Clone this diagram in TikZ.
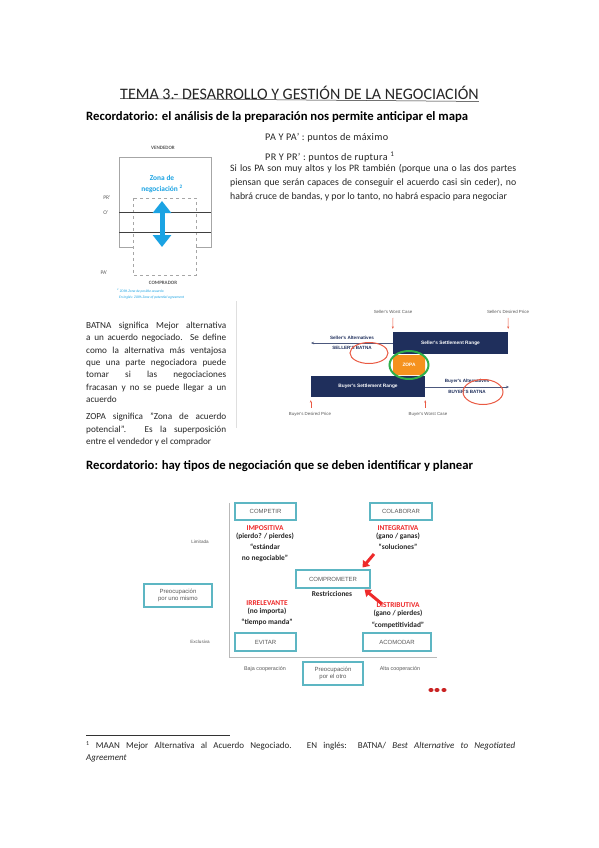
\documentclass[tikz,border=0pt]{standalone}
\usepackage{fontspec}
\setmainfont{Carlito}
\newfontfamily\arialfam{Liberation Sans}
\usetikzlibrary{arrows.meta,positioning,shapes.geometric}
\definecolor{zonaazul}{HTML}{1BA3E3}
\definecolor{marino}{HTML}{1F2F5C}
\definecolor{naranja}{HTML}{F5921E}
\definecolor{verde}{HTML}{2EAF4B}
\definecolor{rojo}{HTML}{EE2A2A}
\definecolor{rojocirculo}{HTML}{EA5A43}
\definecolor{turquesa}{HTML}{5DB6C3}
\definecolor{gristexto}{HTML}{5A5A5A}
\tikzset{
  cuerpo/.style={inner sep=0pt, font=\fontsize{9.2}{13.8}\selectfont, text=black!85},
  titulillo/.style={inner sep=0pt, anchor=west, font=\fontsize{12.7}{14}\selectfont\bfseries},
  mini/.style={inner sep=0pt, font=\arialfam\fontsize{4.4}{5}\selectfont, text=gristexto},
  rango/.style={fill=marino, text=white, inner sep=0pt, font=\arialfam\bfseries\fontsize{4.8}{5}\selectfont},
  flechita/.style={-{Stealth[length=2.5pt,width=2pt]}, rojocirculo, line width=0.5pt},
  alternativa/.style={-{Stealth[length=3pt,width=2.5pt]}, marino!80, line width=0.5pt},
  caja/.style={draw=turquesa, line width=1.2pt, inner sep=0pt, text=gristexto, font=\arialfam\fontsize{6}{7.5}\selectfont, align=center},
  tipo/.style={inner sep=0pt, text=rojo, font=\bfseries\fontsize{7.4}{9}\selectfont},
  lema/.style={inner sep=0pt, text=black!85, font=\bfseries\fontsize{7.4}{11.3}\selectfont, align=center},
  flecharoja/.style={rojo, line width=3pt, -{Triangle[length=6pt,width=9pt]}}
}
\begin{document}
\begin{tikzpicture}[x=1pt, y=-1pt]
  \useasboundingbox[fill=white] (0,0) rectangle (599,848);
  % titulo y primer epigrafe
  \node[inner sep=0pt, font=\fontsize{16}{16}\selectfont, text=black!85] (tema) at (299.5,93) {TEMA 3.- DESARROLLO Y GESTIÓN DE LA NEGOCIACIÓN};
  \draw[black!85, line width=0.5pt] (tema.south west) ++(0,-1.5) -- ([yshift=-1.5pt]tema.south east);
  \node[titulillo] (rec1) at (86,117) {Recordatorio: el análisis de la preparación nos permite anticipar el mapa};

  % el esquema vendedor / comprador
  \node[inner sep=0pt, text=gristexto, font=\bfseries\fontsize{5}{5}\selectfont] (vendedor) at (163,148) {VENDEDOR};
  \draw[gray!70, line width=0.6pt] (133,247) -- (119,247) -- (119,157) -- (211,157) -- (211,247) -- (196,247);
  \draw[gray!70, dashed, line width=0.6pt] (133,198) rectangle (196,275);
  \draw[gray!50!black, line width=1pt] (119,212.5) -- (211,212.5);
  \draw[gray!50!black, line width=1pt] (119,232) -- (211,232);
  \coordinate (zonaarriba) at (162,201);
  \coordinate (zonaabajo) at (162,247);
  \draw[zonaazul, line width=5pt, {Triangle[length=12pt,width=18pt]}-{Triangle[length=12pt,width=18pt]}] (zonaarriba) -- (zonaabajo);
  \node[inner sep=0pt, text=zonaazul, font=\bfseries\fontsize{7.4}{11.5}\selectfont, align=center] (zona) at (162,184) {Zona de\\negociación \textsuperscript{2}};
  \node[inner sep=0pt, text=gristexto, font=\fontsize{5.5}{5}\selectfont\rmfamily] (pr) at (107,198) {PR’};
  \node[inner sep=0pt, text=gristexto, font=\fontsize{5.5}{5}\selectfont\rmfamily] (o) at (106,213) {O’};
  \node[inner sep=0pt, text=gristexto, font=\fontsize{5.5}{5}\selectfont\rmfamily] (pa) at (104,273) {PA’};
  \node[inner sep=0pt, text=gristexto, font=\bfseries\fontsize{5}{5}\selectfont] (comprador) at (163,283) {COMPRADOR};
  \node[inner sep=0pt, anchor=west, text=zonaazul, font=\itshape\fontsize{3.6}{6}\selectfont, align=left] (notazopa) at (117,294) {\textsuperscript{2} ZOPA Zona de posible acuerdo\\\hspace*{2pt}En inglés: ZOPA Zone of potential agreement};

  % textos de la derecha
  \node[cuerpo, anchor=west, font=\fontsize{10.2}{12}\selectfont\addfontfeature{LetterSpace=3}] (pamax) at (265,138) {PA Y PA’ : puntos de máximo};
  \node[cuerpo, anchor=west, font=\fontsize{10.2}{12}\selectfont\addfontfeature{LetterSpace=3}] (prrup) at (265,157) {PR Y PR’ : puntos de ruptura \textsuperscript{1}};
  \node[cuerpo, anchor=north west, text width=286pt, align=justify, font=\fontsize{9.8}{13.8}\selectfont] (silos) at (230,164.5) {Si los PA son muy altos y los PR también (porque una o las dos partes\linebreak piensan que serán capaces de conseguir el acuerdo casi sin ceder), no\linebreak habrá cruce de bandas, y por lo tanto, no habrá espacio para negociar};

  % textos de la izquierda
  \node[cuerpo, anchor=north west, text width=140pt, align=justify, font=\fontsize{9.2}{12.3}\selectfont] (batna) at (86,322) {BATNA significa Mejor alternativa\linebreak a un acuerdo negociado. Se define\linebreak como la alternativa más ventajosa\linebreak que una parte negociadora puede\linebreak tomar si las negociaciones\linebreak fracasan y no se puede llegar a un\linebreak acuerdo};
  \node[cuerpo, anchor=north west, text width=140pt, align=justify, font=\fontsize{9.2}{12.5}\selectfont] (zopadef) at (86,413) {ZOPA significa "Zona de acuerdo\linebreak potencial". Es la superposición\linebreak entre el vendedor y el comprador};
  \draw[gray!25, line width=0.8pt] (236,301) -- (236,428);

  % el esquema de la BATNA
  \node[mini] (swc) at (393,312) {Seller's Worst Case};
  \node[mini] (sdp) at (508,312) {Seller's Desired Price};
  \node[rango, minimum width=115pt, minimum height=22pt] (ssr) at (450.5,343) {Seller's Settlement Range};
  \node[rango, minimum width=114pt, minimum height=21pt] (bsr) at (368,386.5) {Buyer's Settlement Range};
  \node[fill=naranja, rounded corners=3pt, minimum width=32pt, minimum height=20pt, inner sep=0pt, text=white, font=\arialfam\bfseries\fontsize{4.8}{5}\selectfont] (zopa) at (409,365) {ZOPA};
  \draw[verde, line width=2pt] (zopa) ellipse (19.5pt and 14pt);
  \draw[flechita] ([yshift=-4pt]swc.south) -- ([yshift=3pt]ssr.north west);
  \draw[flechita] ([yshift=-4pt]sdp.south) -- ([yshift=3pt]ssr.north east);
  \coordinate (sbatna) at (311,343);
  \coordinate (bbatna) at (509,387);
  \draw[alternativa] (ssr.west) -- (sbatna);
  \draw[alternativa] (bsr.east |- bbatna) -- (bbatna);
  \node[inner sep=0pt, text=marino, font=\arialfam\bfseries\fontsize{4.6}{5}\selectfont] (salt) at (352,338) {Seller's Alternatives};
  \node[inner sep=0pt, text=marino, font=\arialfam\bfseries\fontsize{4.6}{5}\selectfont] (sbat) at (352,348) {SELLER'S BATNA};
  \node[inner sep=0pt, text=marino, font=\arialfam\bfseries\fontsize{4.6}{5}\selectfont] (balt) at (467,381) {Buyer's Alternatives};
  \node[inner sep=0pt, text=marino, font=\arialfam\bfseries\fontsize{4.6}{5}\selectfont] (bbat) at (467,392) {BUYER'S BATNA};
  \draw[rojocirculo, line width=1pt] (369,353) ellipse (19pt and 10.5pt);
  \draw[rojocirculo, line width=1pt] (483,392) ellipse (20pt and 12.5pt);
  \node[mini] (bdp) at (310,414) {Buyer's Desired Price};
  \node[mini] (bwc) at (428,414) {Buyer's Worst Case};
  \draw[flechita] ([yshift=4pt]bdp.north -| bsr.south west) -- ([yshift=-3pt]bsr.south west);
  \draw[flechita] ([yshift=4pt]bwc.north -| bsr.south east) -- ([yshift=-3pt]bsr.south east);

  % segundo epigrafe
  \node[titulillo] (rec2) at (86,466) {Recordatorio: hay tipos de negociación que se deben identificar y planear};

  % la matriz de estilos de negociacion
  \coordinate (ejearriba) at (229,503);
  \coordinate (origen) at (229,657);
  \coordinate (ejederecha) at (437,657);
  \draw[gray!55, line width=0.8pt] (ejearriba) -- (origen) -- (ejederecha);
  \node[caja, minimum width=61pt, minimum height=17pt] (competir) at (265.5,511.5) {COMPETIR};
  \node[caja, minimum width=62pt, minimum height=17pt] (colaborar) at (401,511.5) {COLABORAR};
  \node[caja, minimum width=74pt, minimum height=18pt] (comprometer) at (333,579) {COMPROMETER};
  \node[caja, minimum width=61pt, minimum height=18pt] (evitar) at (265.5,642) {EVITAR};
  \node[caja, minimum width=68pt, minimum height=18pt] (acomodar) at (397,642) {ACOMODAR};
  \node[caja, minimum width=68pt, minimum height=23pt] (uno) at (178,595.5) {Preocupación\\por uno mismo};
  \node[caja, minimum width=60pt, minimum height=23pt] (otro) at (333,673.5) {Preocupación\\por el otro};
  \node[mini, font=\arialfam\fontsize{4.6}{5}\selectfont] (limitada) at (200,542) {Limitada};
  \node[mini, font=\arialfam\fontsize{4.6}{5}\selectfont] (exclusiva) at (200,642) {Exclusiva};
  \node[mini, font=\arialfam\fontsize{5.4}{5}\selectfont] (baja) at (265,669) {Baja cooperación};
  \node[mini, font=\arialfam\fontsize{5.4}{5}\selectfont] (alta) at (400,669) {Alta cooperación};
  \node[tipo] (impositiva) at (265,528) {IMPOSITIVA};
  \node[lema, below=2pt of impositiva] (impolema) {(pierdo? / pierdes)\\“estándar\\no negociable”};
  \node[tipo] (integrativa) at (398,528) {INTEGRATIVA};
  \node[lema, below=2pt of integrativa] (integlema) {(gano / ganas)\\“soluciones”};
  \node[lema] (restricciones) at (332,594) {Restricciones};
  \node[tipo] (irrelevante) at (267,603) {IRRELEVANTE};
  \node[lema, below=2pt of irrelevante] (irrelema) {(no importa)\\“tiempo manda”};
  \node[tipo] (distributiva) at (398,605.5) {DISTRIBUTIVA};
  \node[lema, below=2pt of distributiva] (distlema) {(gano / pierdes)\\“competitividad”};
  \coordinate (flechaarriba) at (374,554);
  \coordinate (flechaabajo) at (382,604);
  \draw[flecharoja] (flechaarriba) -- ([xshift=-8pt,yshift=2pt]comprometer.north east);
  \draw[flecharoja] (flechaabajo) -- ([xshift=-6pt,yshift=-1pt]comprometer.south east);
  \foreach \x in {431,437,444} {
    \fill[rojo!85!black] (\x,690) ellipse (2.6pt and 2pt);
  }

  % nota al pie
  \draw[black!80, line width=0.5pt] (86,735) -- (230,735);
  \node[cuerpo, anchor=north west, text width=429pt, align=justify, font=\fontsize{9}{12}\selectfont] (nota) at (86,741) {\textsuperscript{1} MAAN Mejor Alternativa al Acuerdo Negociado. EN inglés: BATNA/ \textit{Best Alternative to Negotiated}\linebreak \textit{Agreement}};
\end{tikzpicture}
\end{document}
